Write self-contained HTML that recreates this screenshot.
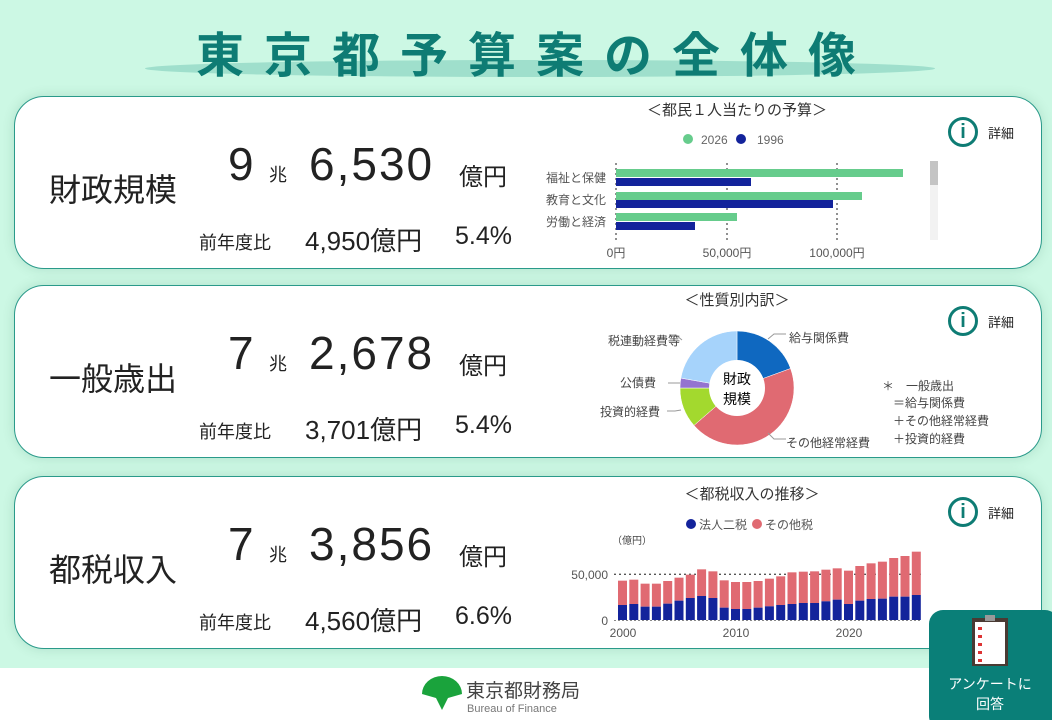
<!DOCTYPE html>
<html><head><meta charset="utf-8"><style>
*{margin:0;padding:0;box-sizing:border-box}
body{width:1052px;height:720px;overflow:hidden;background:#fff;font-family:"Liberation Sans","Noto Sans CJK JP",sans-serif;position:relative;color:#222}
.bg{position:absolute;left:0;top:0;width:1052px;height:668px;background:#ccf8e4}
.title{position:absolute;left:10px;width:1052px;top:16px;text-align:center;font-size:48px;font-weight:bold;color:#0e7c74;letter-spacing:20px;z-index:2}
.ell{position:absolute;left:145px;top:60px;width:790px;height:17px;border-radius:50%;background:#9fdfcc}
.card{position:absolute;left:14px;width:1028px;height:173px;background:#fff;border:1.5px solid #2a9a8a;border-radius:30px;box-shadow:0 0 12px rgba(0,80,60,.15)}
.t{position:absolute;white-space:nowrap}
.lab{font-size:32px;left:34px;top:68px}
.n1{font-size:46px;left:213px;top:40px;font-weight:500}
.zh{font-size:18px;left:254px;top:64px}
.n2{font-size:46px;left:294px;top:40px;font-weight:500;letter-spacing:2px}
.en{font-size:24px;left:444px;top:60px}
.p1{font-size:18px;left:184px;top:132px}
.p2{font-size:26px;left:290px;top:124px}
.p3{font-size:25px;left:440px;top:125px}
.info{position:absolute;left:933px;top:20px;width:30px;height:30px;border:3px solid #0e7c74;border-radius:50%;color:#0e7c74;font-size:20px;font-weight:bold;text-align:center;line-height:24px}
.infot{position:absolute;left:973px;top:26px;font-size:13px}
svg text{font-family:"Liberation Sans","Noto Sans CJK JP",sans-serif}
</style></head><body>
<div class="bg"></div>
<div class="ell"></div>
<div class="title">東京都予算案の全体像</div>

<div class="card" style="top:96px">
<div class="t lab">財政規模</div><div class="t n1">9</div><div class="t zh">兆</div><div class="t n2">6,530</div><div class="t en">億円</div>
<div class="t p1">前年度比</div><div class="t p2">4,950億円</div><div class="t p3">5.4%</div>
<div class="info">i</div><div class="infot">詳細</div></div>

<div class="card" style="top:285px">
<div class="t lab">一般歳出</div><div class="t n1">7</div><div class="t zh">兆</div><div class="t n2">2,678</div><div class="t en">億円</div>
<div class="t p1">前年度比</div><div class="t p2">3,701億円</div><div class="t p3">5.4%</div>
<div class="info">i</div><div class="infot">詳細</div></div>

<div class="card" style="top:476px">
<div class="t lab">都税収入</div><div class="t n1">7</div><div class="t zh">兆</div><div class="t n2">3,856</div><div class="t en">億円</div>
<div class="t p1">前年度比</div><div class="t p2">4,560億円</div><div class="t p3">6.6%</div>
<div class="info">i</div><div class="infot">詳細</div></div>

<svg width="1052" height="720" style="position:absolute;left:0;top:0" id="s">
<text x="737" y="115" font-size="15" text-anchor="middle" fill="#333">＜都民１人当たりの予算＞</text>
<circle cx="688" cy="139" r="5" fill="#66cc8c"/><text x="701" y="144" font-size="12" fill="#666">2026</text>
<circle cx="741" cy="139" r="5" fill="#13239b"/><text x="757" y="144" font-size="12" fill="#666">1996</text>
<g stroke="#555" stroke-dasharray="2,3" stroke-width="1.3">
<line x1="616" y1="163" x2="616" y2="242"/><line x1="727" y1="163" x2="727" y2="242"/><line x1="837" y1="163" x2="837" y2="242"/></g>
<rect x="616" y="169" width="287" height="8" fill="#66cc8c"/><rect x="616" y="178" width="135" height="8" fill="#13239b"/>
<rect x="616" y="192" width="246" height="8" fill="#66cc8c"/><rect x="616" y="200" width="217" height="8" fill="#13239b"/>
<rect x="616" y="213" width="121" height="8" fill="#66cc8c"/><rect x="616" y="222" width="79" height="8" fill="#13239b"/>
<g font-size="12" fill="#555" text-anchor="end"><text x="606" y="182">福祉と保健</text><text x="606" y="204">教育と文化</text><text x="606" y="226">労働と経済</text></g>
<g font-size="12" fill="#555" text-anchor="middle"><text x="616" y="257">0円</text><text x="727" y="257">50,000円</text><text x="837" y="257">100,000円</text></g>
<rect x="930" y="161" width="8" height="79" fill="#f2f2f2"/><rect x="930" y="161" width="8" height="24" fill="#c4c4c4"/>
<text x="737" y="305" font-size="15" text-anchor="middle" fill="#333">＜性質別内訳＞</text>
<g id="pie"></g>
<circle cx="737" cy="388" r="28" fill="#fff"/>
<text x="737" y="384" font-size="14" text-anchor="middle">財政</text><text x="737" y="404" font-size="14" text-anchor="middle">規模</text>
<g stroke="#999" fill="none"><path d="M768 339 l6 -5 h12"/><path d="M768 433 l6 6 h12"/><path d="M682 340 l-6 -5 h-7"/><path d="M680 383 h-12"/><path d="M681 410 l-6 1 h-8"/></g>
<g font-size="12" fill="#444"><text x="789" y="342">給与関係費</text><text x="786" y="447">その他経常経費</text>
<text x="680" y="345" text-anchor="end">税連動経費等</text><text x="656" y="387" text-anchor="end">公債費</text><text x="660" y="416" text-anchor="end">投資的経費</text>
<text x="882" y="390">＊　一般歳出</text><text x="893" y="407">＝給与関係費</text><text x="893" y="425">＋その他経常経費</text><text x="893" y="443">＋投資的経費</text></g>
<text x="752" y="499" font-size="15" text-anchor="middle" fill="#333">＜都税収入の推移＞</text>
<circle cx="691" cy="524" r="5" fill="#13239b"/><text x="699" y="529" font-size="12" fill="#555">法人二税</text>
<circle cx="757" cy="524" r="5" fill="#e06a72"/><text x="765" y="529" font-size="12" fill="#555">その他税</text>
<text x="612" y="544" font-size="10" fill="#444">（億円）</text>
<line x1="614" y1="574.3" x2="922" y2="574.3" stroke="#555" stroke-dasharray="2,3" stroke-width="1.3"/>
<g id="bars"></g>
<line x1="614" y1="620.5" x2="922" y2="620.5" stroke="#888" stroke-dasharray="2,2"/>
<g font-size="12" fill="#555"><text x="608" y="579" text-anchor="end">50,000</text><text x="608" y="625" text-anchor="end">0</text>
<text x="623" y="637" text-anchor="middle">2000</text><text x="736" y="637" text-anchor="middle">2010</text><text x="849" y="637" text-anchor="middle">2020</text></g>
<path d="M422 694 a20 18 0 0 1 40 0 l-14 4 l-6 12 l-6 -12 z" fill="#1aa33c"/>
<text x="466" y="697" font-size="19" fill="#444">東京都財務局</text>
<text x="467" y="712" font-size="11" fill="#777">Bureau of Finance</text>
<rect x="929" y="610" width="130" height="120" rx="14" fill="#0a7f78"/>
<rect x="972" y="618" width="36" height="48" fill="#4a3a33"/><rect x="975" y="622" width="30" height="42" fill="#fff"/>
<rect x="985" y="615" width="10" height="6" fill="#999"/>
<g fill="#d33"><rect x="978" y="627" width="4" height="3"/><rect x="978" y="635" width="4" height="3"/><rect x="978" y="643" width="4" height="3"/><rect x="978" y="651" width="4" height="3"/><rect x="978" y="659" width="4" height="3"/></g>
<text x="990" y="689" font-size="14" fill="#fff" text-anchor="middle">アンケートに</text>
<text x="990" y="709" font-size="14" fill="#fff" text-anchor="middle">回答</text>
</svg>
<script>
var tot=[302,299,311,311,303,293,284,268,274,301,306,306,303,296,289,277,275,274,269,265,272,258,250,245,234,228,215];
var blu=[375,372,380,380,371,362,354,348,354,383,387,387,383,379,375,372,369,369,364,359,372,362,357,356,350,350,345];
var g=document.getElementById("bars"),h="";
for(var i=0;i<27;i++){var x=618+i*11.3,t=480+tot[i]/3,b=480+blu[i]/3;
h+='<rect x="'+x+'" y="'+t+'" width="9" height="'+(b-t)+'" fill="#e06a72"/>';
h+='<rect x="'+x+'" y="'+b+'" width="9" height="'+(620-b)+'" fill="#13239b"/>';}
g.innerHTML=h;
var sl=[[0,70,"#0f68c0"],[70,229,"#e06a72"],[229,270,"#a3d92e"],[270,280,"#9474d0"],[280,360,"#a6d3fb"]];
var cx=737,cy=388,r=57,p="";
function pt(a){a=(a-90)*Math.PI/180;return (cx+r*Math.cos(a)).toFixed(2)+" "+(cy+r*Math.sin(a)).toFixed(2);}
sl.forEach(function(s){p+='<path d="M'+cx+' '+cy+' L'+pt(s[0])+' A'+r+' '+r+' 0 '+(s[1]-s[0]>180?1:0)+' 1 '+pt(s[1])+' Z" fill="'+s[2]+'" stroke="#fff" stroke-width="0.5"/>';});
document.getElementById("pie").innerHTML=p;
</script>
</body></html>
